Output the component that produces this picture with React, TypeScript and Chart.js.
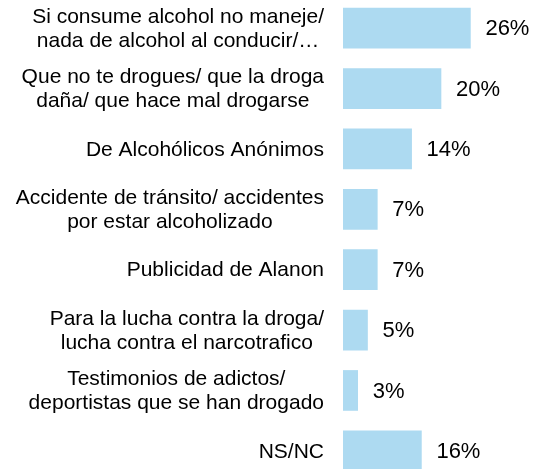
import React, { useEffect, useRef } from "react";
import { Chart, registerables } from "chart.js";

Chart.register(...registerables);

const categories: string[][] = [
  ["Si consume alcohol no maneje/", "nada de alcohol al conducir/…"],
  ["Que no te drogues/ que la droga", "daña/ que hace mal drogarse"],
  ["De Alcohólicos Anónimos"],
  ["Accidente de tránsito/ accidentes", "por estar alcoholizado"],
  ["Publicidad de Alanon"],
  ["Para la lucha contra la droga/", "lucha contra el narcotrafico"],
  ["Testimonios de adictos/", "deportistas que se han drogado"],
  ["NS/NC"],
];
const values: number[] = [26, 20, 14, 7, 7, 5, 3, 16];
const valueLabels: string[] = ["26%", "20%", "14%", "7%", "7%", "5%", "3%", "16%"];

const LABEL_FONT = "21px 'Liberation Sans', Arial, sans-serif";
const VALUE_FONT = "22px 'Liberation Sans', Arial, sans-serif";

const labelPlugin = {
  id: "customLabels",
  afterDatasetsDraw(chart: any) {
    const ctx = chart.ctx;
    const yScale = chart.scales.y;
    const area = chart.chartArea;
    const meta = chart.getDatasetMeta(0);
    ctx.save();
    ctx.fillStyle = "#000000";
    ctx.textBaseline = "middle";
    const lineH = 24;
    const rightEdge = area.left - 19;
    categories.forEach((lines, i) => {
      const cy = yScale.getPixelForValue(i);
      ctx.font = LABEL_FONT;
      const widest = Math.max(...lines.map((l) => ctx.measureText(l).width));
      const cx = rightEdge - widest / 2;
      ctx.textAlign = "center";
      lines.forEach((line, j) => {
        const y = cy + (j - (lines.length - 1) / 2) * lineH + 1;
        ctx.fillText(line, cx, y);
      });
      const bar = meta.data[i];
      ctx.font = VALUE_FONT;
      ctx.textAlign = "left";
      ctx.fillText(valueLabels[i], bar.x + 15, bar.y + 1);
    });
    ctx.restore();
  },
};

export default function App() {
  const ref = useRef<HTMLCanvasElement | null>(null);
  useEffect(() => {
    if (!ref.current) return;
    const chart = new Chart(ref.current, {
      type: "bar",
      data: {
        labels: categories.map((c) => c.join(" ")),
        datasets: [
          {
            data: values,
            backgroundColor: "#ADDAF1",
            borderWidth: 0,
            barThickness: 40,
          },
        ],
      },
      options: {
        indexAxis: "y",
        animation: false,
        responsive: true,
        maintainAspectRatio: false,
        layout: { padding: { left: 343, right: 0, top: 0, bottom: 0 } },
        plugins: {
          legend: { display: false },
          tooltip: { enabled: false },
          title: { display: false },
        },
        scales: {
          x: { display: false, min: 0, max: 40 },
          y: { display: false, offset: true },
        },
      },
      plugins: [labelPlugin],
    });
    return () => chart.destroy();
  }, []);
  return (
    <div
      style={{
        position: "absolute",
        left: 0,
        top: -2,
        width: 539,
        height: 483,
        background: "#ffffff",
      }}
    >
      <canvas ref={ref} />
    </div>
  );
}
